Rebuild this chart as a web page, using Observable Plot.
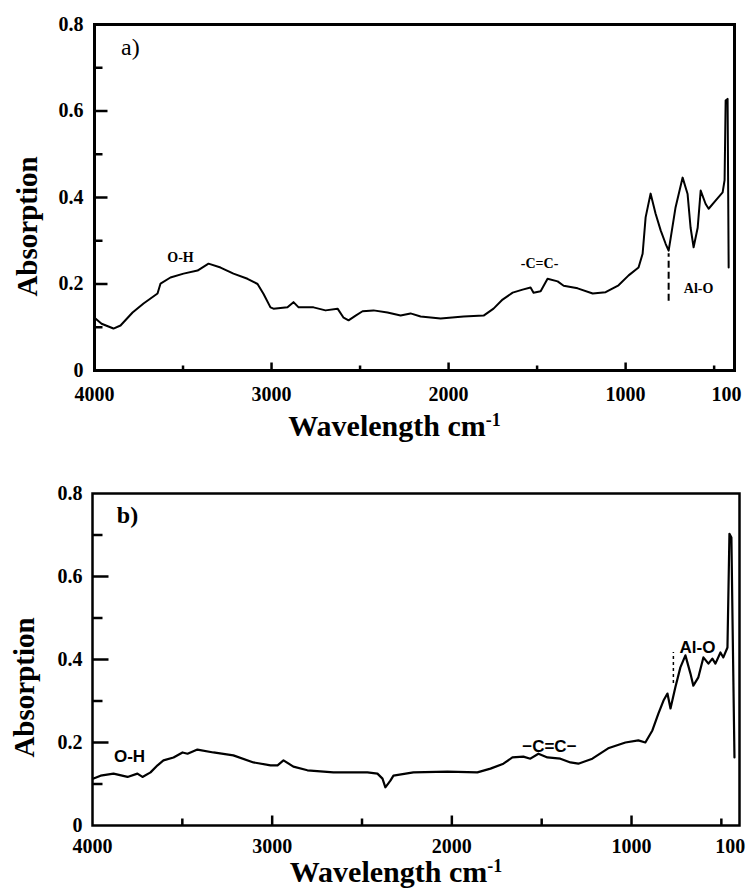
<!DOCTYPE html>
<html>
<head>
<meta charset="utf-8">
<script src="https://cdn.jsdelivr.net/npm/d3@7"></script>
<script src="https://cdn.jsdelivr.net/npm/@observablehq/plot@0.6"></script>
<style>
  body { margin: 0; background: #fff; }
  #chart svg { display: block; }
</style>
</head>
<body>
<div id="chart"></div>
<script>
// ---- Panel a) data: wavenumber (cm-1) and absorption ----
const waveA = [3995,3960,3893,3853,3785,3723,3644,3627,3571,3497,3418,3356,3288,3215,3136,3079,3045,3006,2989,2910,2876,2847,2763,2695,2627,2593,2565,2525,2486,2424,2345,2271,2215,2158,2045,1915,1802,1746,1695,1638,1582,1537,1520,1480,1441,1384,1350,1271,1186,1113,1040,983,927,904,887,859,831,802,774,757,746,718,678,650,633,616,593,576,548,531,492,452,441,435,424,418];
const absA = [0.12,0.108,0.097,0.104,0.134,0.155,0.178,0.201,0.215,0.224,0.231,0.247,0.238,0.224,0.212,0.2,0.177,0.146,0.143,0.146,0.158,0.146,0.146,0.139,0.143,0.122,0.116,0.127,0.137,0.139,0.134,0.127,0.132,0.125,0.12,0.125,0.127,0.143,0.164,0.18,0.187,0.192,0.18,0.183,0.212,0.206,0.196,0.19,0.178,0.181,0.197,0.22,0.238,0.27,0.354,0.409,0.363,0.324,0.293,0.277,0.305,0.377,0.446,0.408,0.33,0.285,0.33,0.416,0.385,0.374,0.393,0.412,0.44,0.624,0.628,0.238];

// ---- Panel b) data ----
const waveB = [3994,3955,3883,3805,3750,3722,3677,3638,3605,3549,3499,3471,3416,3327,3216,3104,3009,2970,2937,2882,2804,2659,2470,2414,2386,2370,2342,2325,2214,2024,1858,1785,1713,1663,1602,1563,1518,1468,1396,1340,1296,1218,1130,1034,962,923,884,850,822,800,783,756,728,700,672,656,628,600,572,550,533,505,489,466,455,444,438,427];
const absB = [0.113,0.12,0.125,0.117,0.125,0.117,0.128,0.145,0.157,0.164,0.176,0.173,0.183,0.176,0.169,0.152,0.145,0.145,0.157,0.142,0.133,0.128,0.128,0.125,0.113,0.092,0.108,0.12,0.128,0.13,0.128,0.137,0.149,0.164,0.166,0.161,0.173,0.164,0.161,0.152,0.149,0.161,0.186,0.2,0.205,0.2,0.229,0.27,0.301,0.318,0.282,0.333,0.381,0.41,0.366,0.337,0.357,0.405,0.39,0.402,0.39,0.417,0.405,0.429,0.703,0.694,0.5,0.164];

// ---- Ticks ----
const yTickValues = [0, 0.2, 0.4, 0.6, 0.8];
const yTickLabels = ["0", "0.2", "0.4", "0.6", "0.8"];
const yMajorTicks = [0.2, 0.4, 0.6];
const yMinorTicks = [0.1, 0.3, 0.5, 0.7];
const xTickLabels = ["4000", "3000", "2000", "1000", "100"];
const xTickValuesA = [4000, 3000, 2000, 1000, 430];
const xTickValuesB = [4000, 3000, 2000, 1000, 450];
const xMajorTicks = [3000, 2000, 1000];
const xMinorTicks = [3500, 2500, 1500, 500];

// ---- Annotations ----
const annotTextA = ["O-H", "-C=C-", "Al-O"];
const annotWaveA = [3514, 1486, 588];
const annotAbsA = [0.261, 0.247, 0.19];
const annotTextB = ["O-H", "\u2212C=C\u2212", "Al-O"];
const annotWaveB = [3794, 1457, 633];
const annotAbsB = [0.166, 0.19, 0.429];
const dashWaveA = [757], dashFromA = [0.16], dashToA = [0.27];
const dashWaveB = [767], dashFromB = [0.342], dashToB = [0.417];

const SERIF = "'Liberation Serif','Times New Roman',serif";
const SANS = "'Liberation Sans',Arial,sans-serif";
const Y_MAX = 0.8;

function panel(c) {
  const W = 750 - c.ml - c.mr, H = c.height - c.mt - c.mb;
  const x0 = c.xDomain[0], xEnd = c.xDomain[1];
  const xPerPx = (x0 - xEnd) / W, yPerPx = Y_MAX / H;   // tick lengths are given in pixels
  const pts = c.wave.map((w, i) => ({w, a: c.abs[i]}));
  const annots = c.annotText.map((t, i) => ({t, w: c.annotWave[i], a: c.annotAbs[i]}));
  const dash = c.dashWave.map((w, i) => ({w, y1: c.dashFrom[i], y2: c.dashTo[i]}));
  const yTicks = [
    ...yMajorTicks.map(v => ({v, a: x0, b: x0 - c.yMajorLen * xPerPx})),
    ...yMinorTicks.map(v => ({v, a: x0, b: x0 - c.yMinorLen * xPerPx}))
  ];
  const xTicks = [
    ...xMajorTicks.map(v => ({v, a: 0, b: c.xMajorLen * yPerPx})),
    ...xMinorTicks.map(v => ({v, a: 0, b: c.xMinorLen * yPerPx}))
  ];
  const yMap = new Map(yTickValues.map((v, i) => [v, yTickLabels[i]]));
  const xMap = new Map(c.xTickValues.map((v, i) => [v, xTickLabels[i]]));
  const svg = Plot.plot({
    width: 750, height: c.height,
    marginTop: c.mt, marginBottom: c.mb, marginLeft: c.ml, marginRight: c.mr,
    x: {domain: c.xDomain},
    y: {domain: [0, Y_MAX]},
    style: {fontFamily: SERIF, background: "white", color: "black"},
    marks: [
      Plot.frame({stroke: "#000", strokeWidth: c.frameWidth}),
      Plot.line(pts, {x: "w", y: "a", stroke: "#000", strokeWidth: c.lineWidth, strokeLinejoin: "round"}),
      Plot.ruleX(dash, {x: "w", y1: "y1", y2: "y2", stroke: "#000", strokeWidth: c.dashWidth, strokeDasharray: c.dashArray}),
      Plot.axisY({ticks: yTickValues, tickSize: 0, tickPadding: c.yPad, tickFormat: d => yMap.get(d),
        fontSize: 20, fontWeight: "bold", fontFamily: SERIF, label: null}),
      Plot.axisX({ticks: c.xTickValues, tickSize: 0, tickPadding: c.xPad, tickFormat: d => xMap.get(d),
        fontSize: 20, fontWeight: "bold", fontFamily: SERIF, label: null}),
      Plot.text(["Absorption"], {text: d => d, frameAnchor: "left", textAnchor: "middle", lineAnchor: "middle",
        rotate: -90, dx: c.yTitleDx, dy: c.yTitleDy, fontSize: 29, fontWeight: "bold", fontFamily: SERIF}),
      Plot.text(["Wavelength cm"], {text: d => d, frameAnchor: "bottom", textAnchor: "middle", lineAnchor: "middle",
        dx: -20, dy: c.xTitleDy, fontSize: 30, fontWeight: "bold", fontFamily: SERIF}),
      Plot.text(annots, {x: "w", y: "a", text: "t", fontSize: c.annotSize, fontWeight: "bold", fontFamily: c.annotFont}),
      Plot.text([c.tag], {text: d => d, x: c.tagWave, y: 0.747, fontSize: 24, fontWeight: c.tagWeight, fontFamily: SERIF}),
      Plot.link(yTicks, {x1: "a", x2: "b", y1: "v", y2: "v", stroke: "#000", strokeWidth: 2.5}),
      Plot.link(xTicks, {x1: "v", x2: "v", y1: "a", y2: "b", stroke: "#000", strokeWidth: 2.5})
    ]
  });
  d3.select(svg).selectAll("text")
    .filter(function() { return this.textContent === "Wavelength cm"; })
    .append("tspan").attr("baseline-shift", "super").attr("font-size", "0.6em").text("-1");
  return svg;
}

const chart = document.getElementById("chart");
chart.appendChild(panel({
  height: 450, mt: 24, mb: 80, ml: 94, mr: 16, xDomain: [4000, 385],
  wave: waveA, abs: absA, lineWidth: 2, frameWidth: 3,
  annotText: annotTextA, annotWave: annotWaveA, annotAbs: annotAbsA, annotSize: 14, annotFont: SERIF,
  dashWave: dashWaveA, dashFrom: dashFromA, dashTo: dashToA, dashWidth: 2, dashArray: "7,4",
  yMajorLen: 13, yMinorLen: 8, xMajorLen: 8, xMinorLen: 5,
  xTickValues: xTickValuesA, yPad: 11, xPad: 16,
  yTitleDx: -67, yTitleDy: 29, xTitleDy: 56,
  tag: "a)", tagWave: 3797, tagWeight: "normal"
}));
chart.appendChild(panel({
  height: 439, mt: 43, mb: 64, ml: 92, mr: 11, xDomain: [4000, 399],
  wave: waveB, abs: absB, lineWidth: 2.2, frameWidth: 2.5,
  annotText: annotTextB, annotWave: annotWaveB, annotAbs: annotAbsB, annotSize: 17, annotFont: SANS,
  dashWave: dashWaveB, dashFrom: dashFromB, dashTo: dashToB, dashWidth: 1.5, dashArray: "3,3",
  yMajorLen: 16, yMinorLen: 10, xMajorLen: 10, xMinorLen: 7,
  xTickValues: xTickValuesB, yPad: 10, xPad: 13,
  yTitleDx: -68, yTitleDy: 28, xTitleDy: 47,
  tag: "b)", tagWave: 3805, tagWeight: "bold"
}));
</script>
</body>
</html>
